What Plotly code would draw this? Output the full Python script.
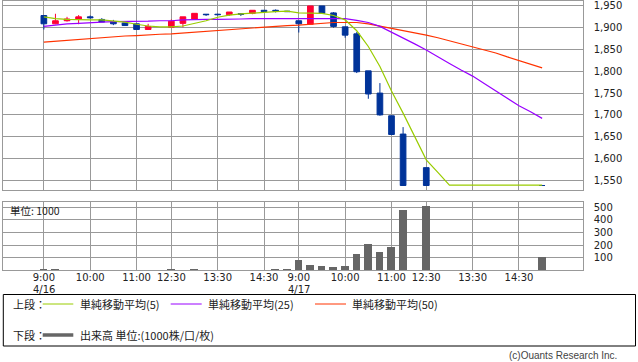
import plotly.graph_objects as go

W, H = 638, 362

# ---- data (15-minute slots, two sessions) ----
day_slots = ["9:00", "9:15", "9:30", "9:45", "10:00", "10:15", "10:30", "10:45", "11:00", "11:15", "11:30",
             "12:30", "12:45", "13:00", "13:15", "13:30", "13:45", "14:00", "14:15", "14:30", "14:45", "15:00"]
slot_labels = ["4/16 " + s for s in day_slots] + ["4/17 " + s for s in day_slots]

opens = [1928, 1909, 1916, 1920, 1925, 1919, 1914, 1911, 1909, 1896, None,
         1901, 1910, 1920, 1931, 1931, 1930, 1932, 1933, 1940, 1940, 1938,
         1916, 1908, 1950, 1934, 1902, 1886, 1801, 1750, 1698, 1656, None,
         1579, None, None, None, None, None, None, None, None, None, 1538]
highs = [1929, 1932, 1925, 1929, 1928, 1922, 1918, 1911, 1909, 1909, None,
         1919, 1925, 1933, 1931, 1932, 1936, 1932, 1940, 1940, 1942, 1938,
         1916, 1950, 1950, 1936, 1902, 1890, 1801, 1773, 1698, 1672, None,
         1579, None, None, None, None, None, None, None, None, None, 1538]
lows = [1896, 1908, 1914, 1908, 1921, 1913, 1906, 1905, 1896, 1896, None,
        1901, 1901, 1920, 1927, 1928, 1927, 1927, 1931, 1937, 1935, 1936,
        1889, 1908, 1933, 1900, 1877, 1796, 1737, 1698, 1655, 1538, None,
        1538, None, None, None, None, None, None, None, None, None, 1538]
closes = [1909, 1916, 1920, 1925, 1923, 1913, 1909, 1905, 1896, 1903, None,
          1915, 1925, 1933, 1930, 1930, 1936, 1931, 1940, 1937, 1938, 1937,
          1909, 1950, 1933, 1903, 1883, 1799, 1748, 1700, 1655, 1538, None,
          1538, None, None, None, None, None, None, None, None, None, 1538]

ma5 = [1925, 1921, 1919, 1918, 1918, 1918, 1916, 1913, 1908, 1904, 1902,
       1902, 1904, 1910, 1916, 1924, 1929, 1932, 1933, 1935, 1937, 1938,
       1934, 1933, 1933, 1928, 1918, 1893, 1857, 1811, 1755, 1704, 1650,
       1597, 1568, 1539, 1539, 1539, 1539, 1539, 1539, 1539, 1539, 1539]
ma25 = [1903, 1906, 1909, 1910, 1912, 1913, 1914, 1914, 1915, 1915, 1916,
        1916, 1918, 1919, 1919, 1919, 1919, 1920, 1921, 1921, 1922, 1922,
        1922, 1922, 1922, 1922, 1921, 1917, 1912, 1903, 1890, 1877, 1863,
        1849, 1833, 1818, 1803, 1789, 1772, 1755, 1738, 1721, 1707, 1692]
ma50 = [1867, 1869, 1871, 1873, 1876, 1878, 1880, 1881, 1882, 1884, 1885,
        1886, 1888, 1890, 1892, 1894, 1895, 1897, 1899, 1901, 1903, 1905,
        1906, 1908, 1910, 1912, 1912, 1912, 1909, 1904, 1899, 1894, 1888,
        1883, 1877, 1870, 1864, 1857, 1849, 1842, 1833, 1825, 1816, 1808]

volumes = [10, 10, 3, 3, 3, 3, 3, 3, 3, 3, None,
           10, 3, 10, 3, 3, 3, 3, 3, 3, 10, 10,
           82, 42, 34, 26, 34, 129, 209, 145, 185, 479, None,
           510, None, None, None, None, None, None, None, None, None, 106]

tick_slots = [0, 4, 8, 11, 15, 19, 22, 26, 30, 33, 37, 41]
tick_text = ["9:00", "10:00", "11:00", "12:30", "13:30", "14:30",
             "9:00", "10:00", "11:00", "12:30", "13:30", "14:30"]
date_slots = [0, 22]
date_text = ["4/16", "4/17"]
price_ticks = [1550, 1600, 1650, 1700, 1750, 1800, 1850, 1900, 1950]
vol_ticks = [100, 200, 300, 400, 500]

# ---- helpers ----
def px_x(x):
    return x / W

def px_y(y):
    return 1 - y / H

idx = list(range(len(slot_labels)))
cidx = [i for i in idx if opens[i] is not None]

CJK = "Noto Sans CJK JP, sans-serif"
NUM = "DejaVu Sans, sans-serif"
TXT = "#222222"
GRID = "#999999"

fig = go.Figure()

fig.add_trace(go.Candlestick(
    x=cidx,
    open=[opens[i] for i in cidx], high=[highs[i] for i in cidx],
    low=[lows[i] for i in cidx], close=[closes[i] for i in cidx],
    text=[slot_labels[i] for i in cidx],
    increasing=dict(line=dict(color="#ff0033", width=1), fillcolor="#ff0033"),
    decreasing=dict(line=dict(color="#003399", width=1), fillcolor="#003399"),
    whiskerwidth=0, xaxis="x", yaxis="y", showlegend=False,
))

for vals, col in [(ma50, "#ff3300"), (ma25, "#9900ff"), (ma5, "#99cc00")]:
    fig.add_trace(go.Scatter(x=idx, y=vals, mode="lines", line=dict(color=col, width=1.2),
                             xaxis="x", yaxis="y", showlegend=False, hoverinfo="skip"))

vidx = [i for i in idx if volumes[i] is not None]
fig.add_trace(go.Bar(x=vidx, y=[volumes[i] for i in vidx], marker=dict(color="#666666", line=dict(width=0)),
                     width=0.66, xaxis="x2", yaxis="y2", showlegend=False))

xr = [-3.5, 46.5]
xdom = [px_x(3.3), px_x(582.7)]
common_x = dict(range=xr, domain=xdom, tickvals=tick_slots, showgrid=True, gridcolor=GRID, gridwidth=1,
                showline=True, linecolor=GRID, linewidth=1, mirror=True, zeroline=False, fixedrange=True)
ytick_font = dict(family=NUM, size=10, color=TXT)

fig.update_layout(
    width=W, height=H, margin=dict(l=0, r=0, t=0, b=0),
    paper_bgcolor="white", plot_bgcolor="white",
    font=dict(family=CJK, size=11, color=TXT),
    bargap=0,
    xaxis=dict(**common_x, showticklabels=False, anchor="y", rangeslider=dict(visible=False)),
    yaxis=dict(domain=[px_y(190.3), px_y(0.7)], range=[1527, 1962], side="right", anchor="x",
               tickvals=price_ticks, tickformat=",d", showgrid=True, gridcolor=GRID,
               showline=True, linecolor=GRID, mirror=True, zeroline=False, ticks="",
               ticklabelstandoff=8, tickfont=ytick_font),
    xaxis2=dict(**common_x, anchor="y2", ticktext=tick_text, ticks="",
                ticklabelstandoff=-2, tickfont=dict(family=NUM, size=10, color=TXT)),
    yaxis2=dict(domain=[px_y(270.3), px_y(201.7)], range=[0, 544], side="right", anchor="x2",
                tickvals=vol_ticks, showgrid=True, gridcolor=GRID,
                showline=True, linecolor=GRID, mirror=True, zeroline=False, ticks="",
                ticklabelstandoff=8, tickfont=ytick_font),
)

annotations = [
    dict(x=px_x(8), y=px_y(210), text="単位: 1000", xanchor="left", yanchor="middle", showarrow=False,
         xref="paper", yref="paper", font=dict(family=CJK, size=10.5, color=TXT)),
    dict(x=px_x(11), y=px_y(304), text="上段：", xanchor="left", yanchor="middle", showarrow=False),
    dict(x=px_x(78), y=px_y(304), text="単純移動平均(5)", xanchor="left", yanchor="middle", showarrow=False),
    dict(x=px_x(206), y=px_y(304), text="単純移動平均(25)", xanchor="left", yanchor="middle", showarrow=False),
    dict(x=px_x(350), y=px_y(304), text="単純移動平均(50)", xanchor="left", yanchor="middle", showarrow=False),
    dict(x=px_x(11), y=px_y(335), text="下段：", xanchor="left", yanchor="middle", showarrow=False),
    dict(x=px_x(78), y=px_y(335), text="出来高 単位:(1000株/口/枚)", xanchor="left", yanchor="middle",
         showarrow=False),
    dict(x=px_x(619), y=px_y(355), text="(c)Ouants Research Inc.", xanchor="right", yanchor="middle",
         showarrow=False, font=dict(family="Liberation Sans, sans-serif", size=10, color="#444444")),
]
for a in annotations:
    a.setdefault("xref", "paper")
    a.setdefault("yref", "paper")
    a.setdefault("font", dict(family=CJK, size=11, color=TXT))
for s_i, d_t in zip(date_slots, date_text):
    annotations.append(dict(x=s_i, xref="x2", y=px_y(289.5), yref="paper", text=d_t, showarrow=False,
                            xanchor="center", yanchor="middle", font=dict(family=NUM, size=10, color=TXT)))
fig.update_layout(annotations=annotations)

shapes = [
    dict(type="rect", x0=px_x(3.3), x1=px_x(635.5), y0=px_y(346), y1=px_y(294.5),
         line=dict(color="#000000", width=1)),
    dict(type="line", x0=px_x(42.7), x1=px_x(73.3), y0=px_y(304), y1=px_y(304),
         line=dict(color="#99cc00", width=1)),
    dict(type="line", x0=px_x(170.7), x1=px_x(201.7), y0=px_y(304), y1=px_y(304),
         line=dict(color="#9900ff", width=1)),
    dict(type="line", x0=px_x(315), x1=px_x(346), y0=px_y(304), y1=px_y(304),
         line=dict(color="#ff3300", width=1)),
    dict(type="line", x0=px_x(42.7), x1=px_x(73.3), y0=px_y(335), y1=px_y(335),
         line=dict(color="#666666", width=3.5)),
]
for s in shapes:
    s.update(xref="paper", yref="paper")
fig.update_layout(shapes=shapes)

fig.write_html("out.html")
